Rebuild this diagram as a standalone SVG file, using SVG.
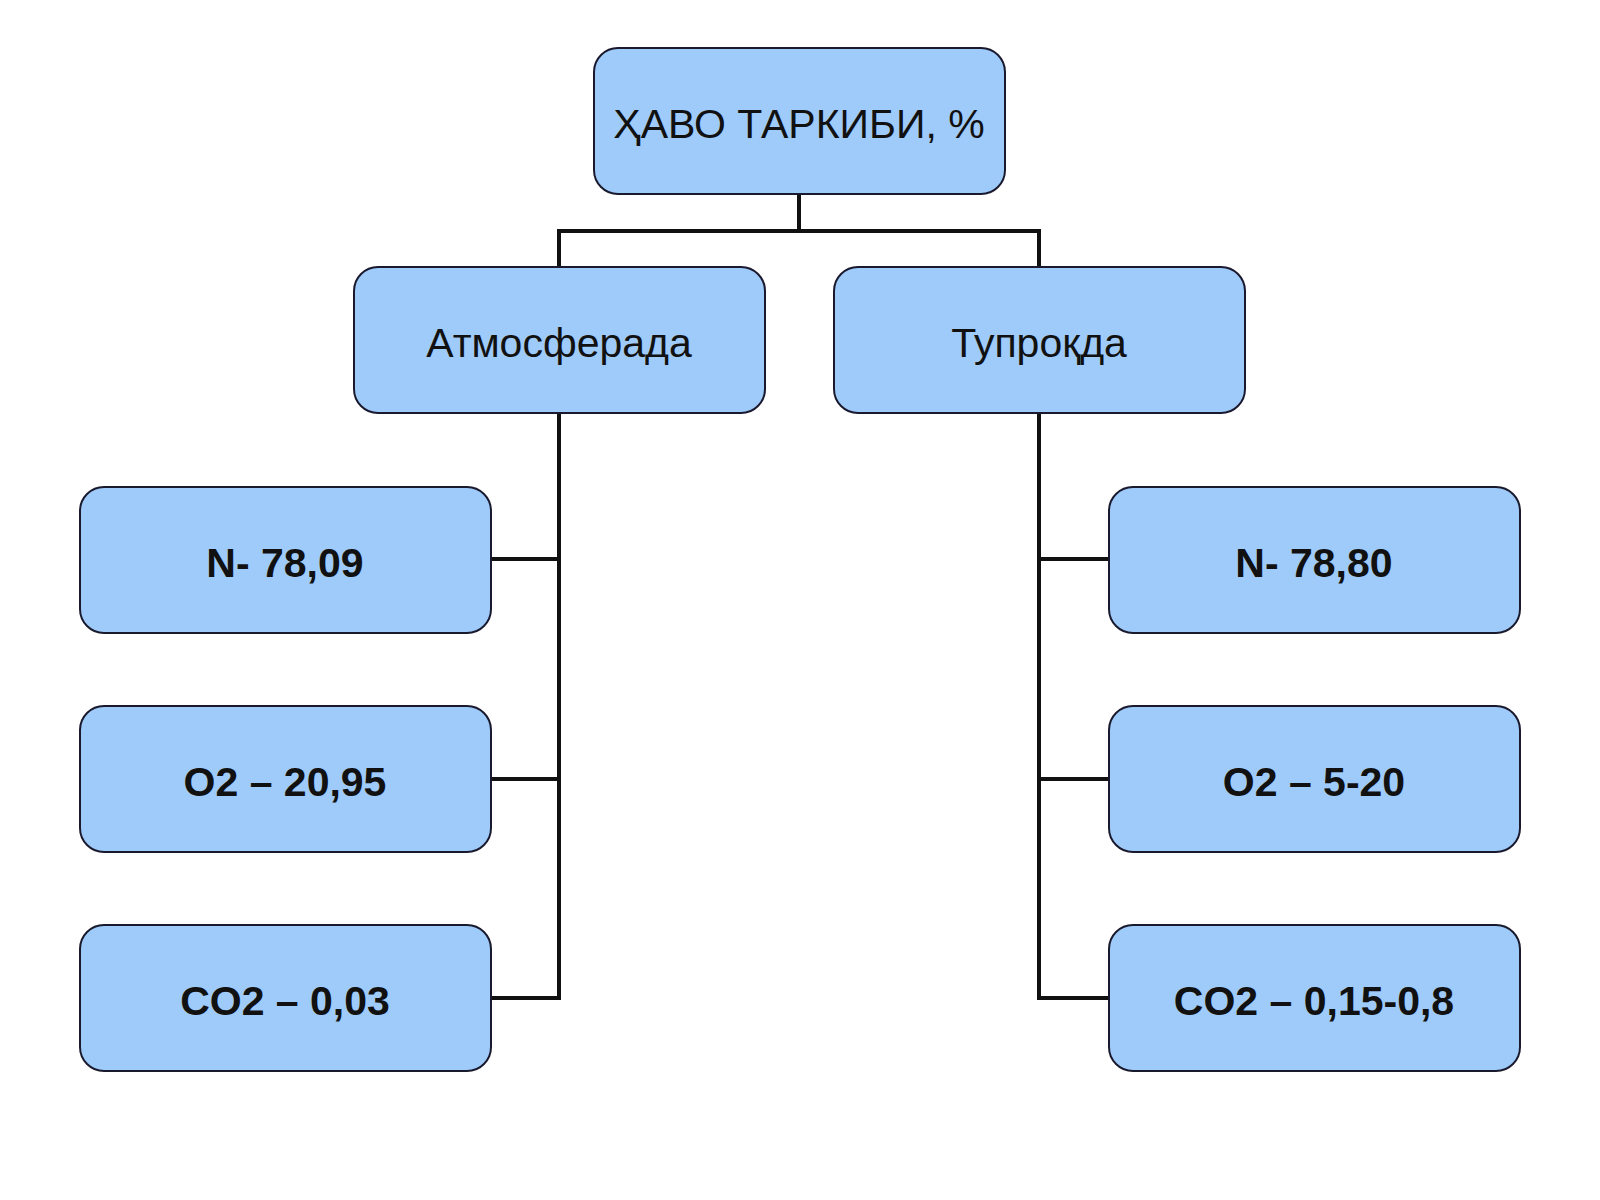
<svg xmlns="http://www.w3.org/2000/svg" width="1600" height="1200" viewBox="0 0 1600 1200">
<style>
.b{fill:#9fcbfb;stroke:#1a1a2e;stroke-width:2}
.t{font-family:"Liberation Sans",Arial,sans-serif;font-size:41px;fill:#111;text-anchor:middle}
.bt{font-weight:bold}
.c{fill:none;stroke:#111;stroke-width:4}
</style>
<rect width="1600" height="1200" fill="#fff"/>
<g id="connectors">
<path class="c" d="M799 194V231M559 267V231H1039V267"/>
<path class="c" d="M559 413V998H491M491 559H559M491 779H559"/>
<path class="c" d="M1039 413V998H1108M1108 559H1039M1108 779H1039"/>
</g>
<g id="root"><rect class="b" x="594" y="48" width="411" height="146" rx="24"/><text class="t" x="799" y="138">ҲАВО ТАРКИБИ, %</text></g>
<g id="atm"><rect class="b" x="354" y="267" width="411" height="146" rx="24"/><text class="t" x="559" y="357">Атмосферада</text></g>
<g id="soil"><rect class="b" x="834" y="267" width="411" height="146" rx="24"/><text class="t" x="1039" y="357">Тупроқда</text></g>
<g id="a1"><rect class="b" x="80" y="487" width="411" height="146" rx="24"/><text class="t bt" x="285" y="577">N- 78,09</text></g>
<g id="a2"><rect class="b" x="80" y="706" width="411" height="146" rx="24"/><text class="t bt" x="285" y="796">O2 – 20,95</text></g>
<g id="a3"><rect class="b" x="80" y="925" width="411" height="146" rx="24"/><text class="t bt" x="285" y="1015">CO2 – 0,03</text></g>
<g id="s1"><rect class="b" x="1109" y="487" width="411" height="146" rx="24"/><text class="t bt" x="1314" y="577">N- 78,80</text></g>
<g id="s2"><rect class="b" x="1109" y="706" width="411" height="146" rx="24"/><text class="t bt" x="1314" y="796">O2 – 5-20</text></g>
<g id="s3"><rect class="b" x="1109" y="925" width="411" height="146" rx="24"/><text class="t bt" x="1314" y="1015">CO2 – 0,15-0,8</text></g>
</svg>
